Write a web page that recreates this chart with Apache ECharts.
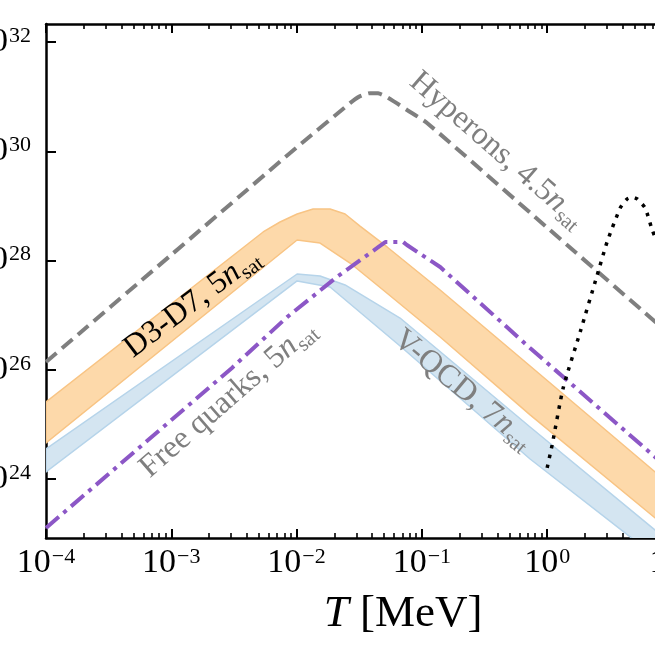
<!DOCTYPE html>
<html>
<head>
<meta charset="utf-8">
<script src="https://cdn.jsdelivr.net/npm/echarts@6/dist/echarts.min.js"></script>
<style>
html,body{margin:0;padding:0;overflow:hidden;background:#fff;width:655px;height:655px;}
#c{position:absolute;left:0;top:0;width:800px;height:655px;}
</style>
</head>
<body>
<div id="c"></div>
<script>
// ---- data (T in MeV, quantity on log scale) ----
const yTickValues = [1e24, 1e26, 1e28, 1e30, 1e32];

const hypT = [1e-4, 1e-3, 1e-2, 0.0267, 0.0316, 0.0386, 0.0447, 0.0528, 0.063, 0.0762, 0.11, 1, 10, 50];
const hypV = [1.39e26, 1.27e28, 1.17e30, 7.6e30, 1.0e31, 1.16e31, 1.15e31, 9.8e30, 7.6e30, 5.7e30, 3.3e30, 4.0e28, 4.0e26, 1.6e25];

const fqT = [1e-4, 3.05e-3, 8.4e-3, 0.021, 0.044, 0.051, 0.071, 0.076, 0.14, 0.73, 7.3, 50];
const fqV = [1.27e23, 1.08e26, 9.2e26, 5.0e27, 1.7e28, 2.18e28, 2.18e28, 1.92e28, 7.6e27, 2.5e26, 2.5e24, 5.4e22];

const nucT = [1, 1.096, 1.343, 1.835, 2.51, 3.01, 3.83, 4.35, 4.77, 5.23, 6.06, 6.9, 8, 10, 20, 50];
const nucV = [1.59e24, 4.19e24, 4.63e25, 4.91e26, 5.43e27, 2.18e28, 9.14e28, 1.34e29, 1.45e29, 1.34e29, 9.14e28, 3.61e28, 1.6e28, 6e27, 1e27, 1.6e26];

const d37UpT = [1e-4, 5.41e-3, 7.38e-3, 0.0101, 0.01355, 0.0185, 0.0244, 0.0321, 0.0528, 0.140, 0.731, 7.28, 50];
const d37UpV = [2.57e25, 3.33e28, 5.07e28, 7.1e28, 8.77e28, 8.77e28, 7.1e28, 4.26e28, 1.77e28, 2.88e27, 1.17e26, 1.34e24, 3.1e22];
const d37LoT = [1e-4, 0.0101, 0.0154, 0.0267, 0.0491, 0.140, 0.731, 7.28, 50];
const d37LoV = [4.56e24, 2.37e28, 2.09e28, 9.0e27, 2.88e27, 3.98e26, 1.49e25, 1.93e23, 5e21];

const vqUpT = [1e-4, 0.0101, 0.0154, 0.0244, 0.067, 0.731, 7.28, 50];
const vqUpV = [3.54e24, 5.66e27, 5.2e27, 3.57e27, 8.85e26, 8.96e24, 1.16e23, 3e21];
const vqLoT = [1e-4, 0.0101, 0.0185, 0.067, 0.731, 4.6, 50];
const vqLoV = [1.34e24, 4.22e27, 3.27e27, 2.72e26, 2.32e24, 8.67e22, 1.2e21];

// label anchors (T, value) and rotation in degrees
const labelTexts = ['Hyperons, 4.5', 'D3-D7, 5', 'V-QCD, 7', 'Free quarks, 5'];
const labelT = [0.399, 1.47e-3, 0.213, 2.84e-3];
const labelV = [1.05e30, 1.67e27, 4.26e25, 2.9e25];
const labelRot = [-41, 37, -39.5, 41];
const labelColor = ['#7f7f7f', '#000000', '#7f7f7f', '#7f7f7f'];

// ---- chart ----
const FONT = "'Liberation Serif','Times New Roman',serif";
const chart = echarts.init(document.getElementById('c'));

function zip(a, b) { return a.map((v, i) => [v, b[i]]); }
function powLabel(v) {
  const e = Math.round(Math.log10(v));
  return '{b|10}{s|' + (e < 0 ? '\u2212' + (-e) : String(e)) + '}';
}
const tickRich = {
  b: { fontFamily: FONT, fontSize: 34, lineHeight: 34, color: '#000', verticalAlign: 'top' },
  s: { fontFamily: FONT, fontSize: 22, lineHeight: 22, color: '#000', verticalAlign: 'top', padding: [0, 0, 0, 1] }
};
const axLine = { show: true, onZero: false, lineStyle: { color: '#000', width: 2.5 } };
const majTick = { show: true, inside: true, length: 9, lineStyle: { color: '#000', width: 2 } };
const minTick = { show: true, splitNumber: 9, length: 5, lineStyle: { color: '#000', width: 1.6 } };

function band(upT, upV, loT, loV, fill, stroke) {
  return {
    type: 'custom', coordinateSystem: 'cartesian2d', xAxisIndex: 0, yAxisIndex: 0,
    clip: true, silent: true, z: 1,
    data: [[upT[0], upV[0]]],
    renderItem: function (params, api) {
      const pts = [];
      for (let i = 0; i < upT.length; i++) pts.push(api.coord([upT[i], upV[i]]));
      for (let i = loT.length - 1; i >= 0; i--) pts.push(api.coord([loT[i], loV[i]]));
      return { type: 'polygon', shape: { points: pts }, style: { fill: fill, stroke: stroke, lineWidth: 1.5, lineJoin: 'round' } };
    }
  };
}

const xCommon = { type: 'log', logBase: 10, min: 1e-4, max: 50, splitLine: { show: false } };
const yCommon = { type: 'log', logBase: 10, min: 8.3e22, max: 2.14e32, splitLine: { show: false } };

const option = {
  animation: false,
  grid: { left: 46, top: 24, width: 714, height: 514, containLabel: false, outerBoundsMode: 'none' },
  xAxis: [
    Object.assign({}, xCommon, {
      position: 'bottom', axisLine: axLine, axisTick: majTick, minorTick: minTick,
      axisLabel: { show: true, margin: 8, formatter: powLabel, rich: tickRich, showMaxLabel: false },
      name: '{i|T} [MeV]', nameLocation: 'middle', nameGap: 54, nameMoveOverlap: false,
      nameTextStyle: { fontFamily: FONT, fontSize: 45, color: '#000',
        rich: { i: { fontFamily: FONT, fontSize: 45, fontStyle: 'italic', color: '#000' } } }
    }),
    Object.assign({}, xCommon, {
      position: 'top', axisLine: axLine, axisTick: majTick, minorTick: minTick,
      axisLabel: { show: false }
    })
  ],
  yAxis: [
    Object.assign({}, yCommon, {
      position: 'left', axisLine: axLine,
      axisTick: Object.assign({}, majTick, { length: 10, customValues: yTickValues }),
      axisLabel: { show: true, margin: 15, formatter: powLabel, rich: tickRich, customValues: yTickValues }
    }),
    Object.assign({}, yCommon, {
      position: 'right', axisLine: axLine,
      axisTick: Object.assign({}, majTick, { length: 10, customValues: yTickValues }),
      axisLabel: { show: false }
    })
  ],
  series: [
    band(d37UpT, d37UpV, d37LoT, d37LoV, '#fdd9aa', '#f8c484'),
    band(vqUpT, vqUpV, vqLoT, vqLoV, '#d4e5f1', '#b6d4ea'),
    { name: 'Hyperons', type: 'line', xAxisIndex: 0, yAxisIndex: 0, data: zip(hypT, hypV),
      symbol: 'none', clip: true, z: 3, smooth: 0.2,
      lineStyle: { color: '#7f7f7f', width: 4, type: [14, 7] } },
    { name: 'Free quarks', type: 'line', xAxisIndex: 0, yAxisIndex: 0, data: zip(fqT, fqV),
      symbol: 'none', clip: true, z: 3,
      lineStyle: { color: '#8c57c6', width: 4, type: [17, 6, 4, 6] } },
    { name: 'Nucleons', type: 'line', xAxisIndex: 0, yAxisIndex: 0, data: zip(nucT, nucV),
      symbol: 'none', clip: true, z: 3, smooth: 0.2,
      lineStyle: { color: '#000', width: 3.5, type: [3.5, 6.5] } }
  ]
};
chart.setOption(option);

// in-plot labels placed at data coordinates
const labelEls = labelTexts.map(function (t, i) {
  const p = chart.convertToPixel({ xAxisIndex: 0, yAxisIndex: 0 }, [labelT[i], labelV[i]]);
  return {
    type: 'text', x: p[0], y: p[1], rotation: labelRot[i] * Math.PI / 180, z: 10, silent: true,
    style: {
      text: '{a|' + t + '}{i|n}{s|sat}',
      align: 'center', verticalAlign: 'middle', fill: labelColor[i],
      fontFamily: FONT, fontSize: 32,
      rich: {
        a: { fontFamily: FONT, fontSize: 32, lineHeight: 32, fill: labelColor[i], verticalAlign: 'top' },
        i: { fontFamily: FONT, fontSize: 32, lineHeight: 32, fontStyle: 'italic', fill: labelColor[i], verticalAlign: 'top' },
        s: { fontFamily: FONT, fontSize: 21, lineHeight: 21, fill: labelColor[i], verticalAlign: 'top', padding: [14, 0, 0, 1] }
      }
    }
  };
});
chart.setOption({ graphic: { elements: labelEls } });
</script>
</body>
</html>
